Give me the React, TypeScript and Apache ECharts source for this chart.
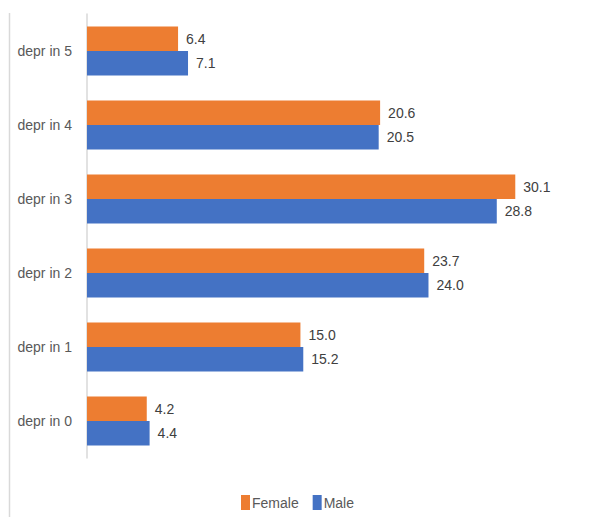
import React, { useEffect, useRef } from "react";
import * as echarts from "echarts";

const categories = ["depr in 0", "depr in 1", "depr in 2", "depr in 3", "depr in 4", "depr in 5"];
const female = [4.2, 15.0, 23.7, 30.1, 20.6, 6.4];
const male = [4.4, 15.2, 24.0, 28.8, 20.5, 7.1];

const FONT = "'Liberation Sans Narrow', 'Liberation Sans', sans-serif";

export default function App() {
  const ref = useRef<HTMLDivElement>(null);
  useEffect(() => {
    if (!ref.current) return;
    const chart = echarts.init(ref.current, undefined, { renderer: "svg" });
    const label = {
      show: true,
      position: "right" as const,
      distance: 8,
      color: "#404040",
      fontSize: 14,
      fontFamily: FONT,
      formatter: (p: any) => Number(p.value).toFixed(1),
    };
    chart.setOption({
      animation: false,
      backgroundColor: "#ffffff",
      grid: { left: 87, top: 14, width: 498, height: 444, containLabel: false },
      xAxis: {
        type: "value",
        min: 0,
        max: 35,
        axisLabel: { show: false },
        axisLine: { show: false },
        axisTick: { show: false },
        splitLine: { show: false },
      },
      yAxis: {
        type: "category",
        data: categories,
        axisLine: { show: true, lineStyle: { color: "#D9D9D9", width: 1.5 } },
        axisTick: { show: false },
        axisLabel: { color: "#595959", fontSize: 14, fontFamily: FONT, margin: 15 },
      },
      legend: {
        bottom: 2,
        left: "center",
        itemWidth: 9,
        itemHeight: 15,
        itemGap: 14,
        icon: "rect",
        textStyle: { color: "#595959", fontSize: 14, fontFamily: FONT, padding: [0, 0, 0, -3] },
        data: ["Female", "Male"],
      },
      graphic: [
        {
          type: "line",
          shape: { x1: 9.5, y1: 13, x2: 9.5, y2: 517 },
          style: { stroke: "#D9D9D9", lineWidth: 1.5 },
        },
      ],
      series: [
        {
          name: "Female",
          type: "bar",
          data: female,
          itemStyle: { color: "#ED7D31" },
          barGap: "0%",
          barCategoryGap: "34%",
          label,
        },
        {
          name: "Male",
          type: "bar",
          data: male,
          itemStyle: { color: "#4472C4" },
          barGap: "0%",
          barCategoryGap: "34%",
          label,
        },
      ],
    });
    return () => chart.dispose();
  }, []);
  return (
    <div
      ref={ref}
      style={{ position: "fixed", left: 0, top: 0, width: 595, height: 517 }}
    />
  );
}
